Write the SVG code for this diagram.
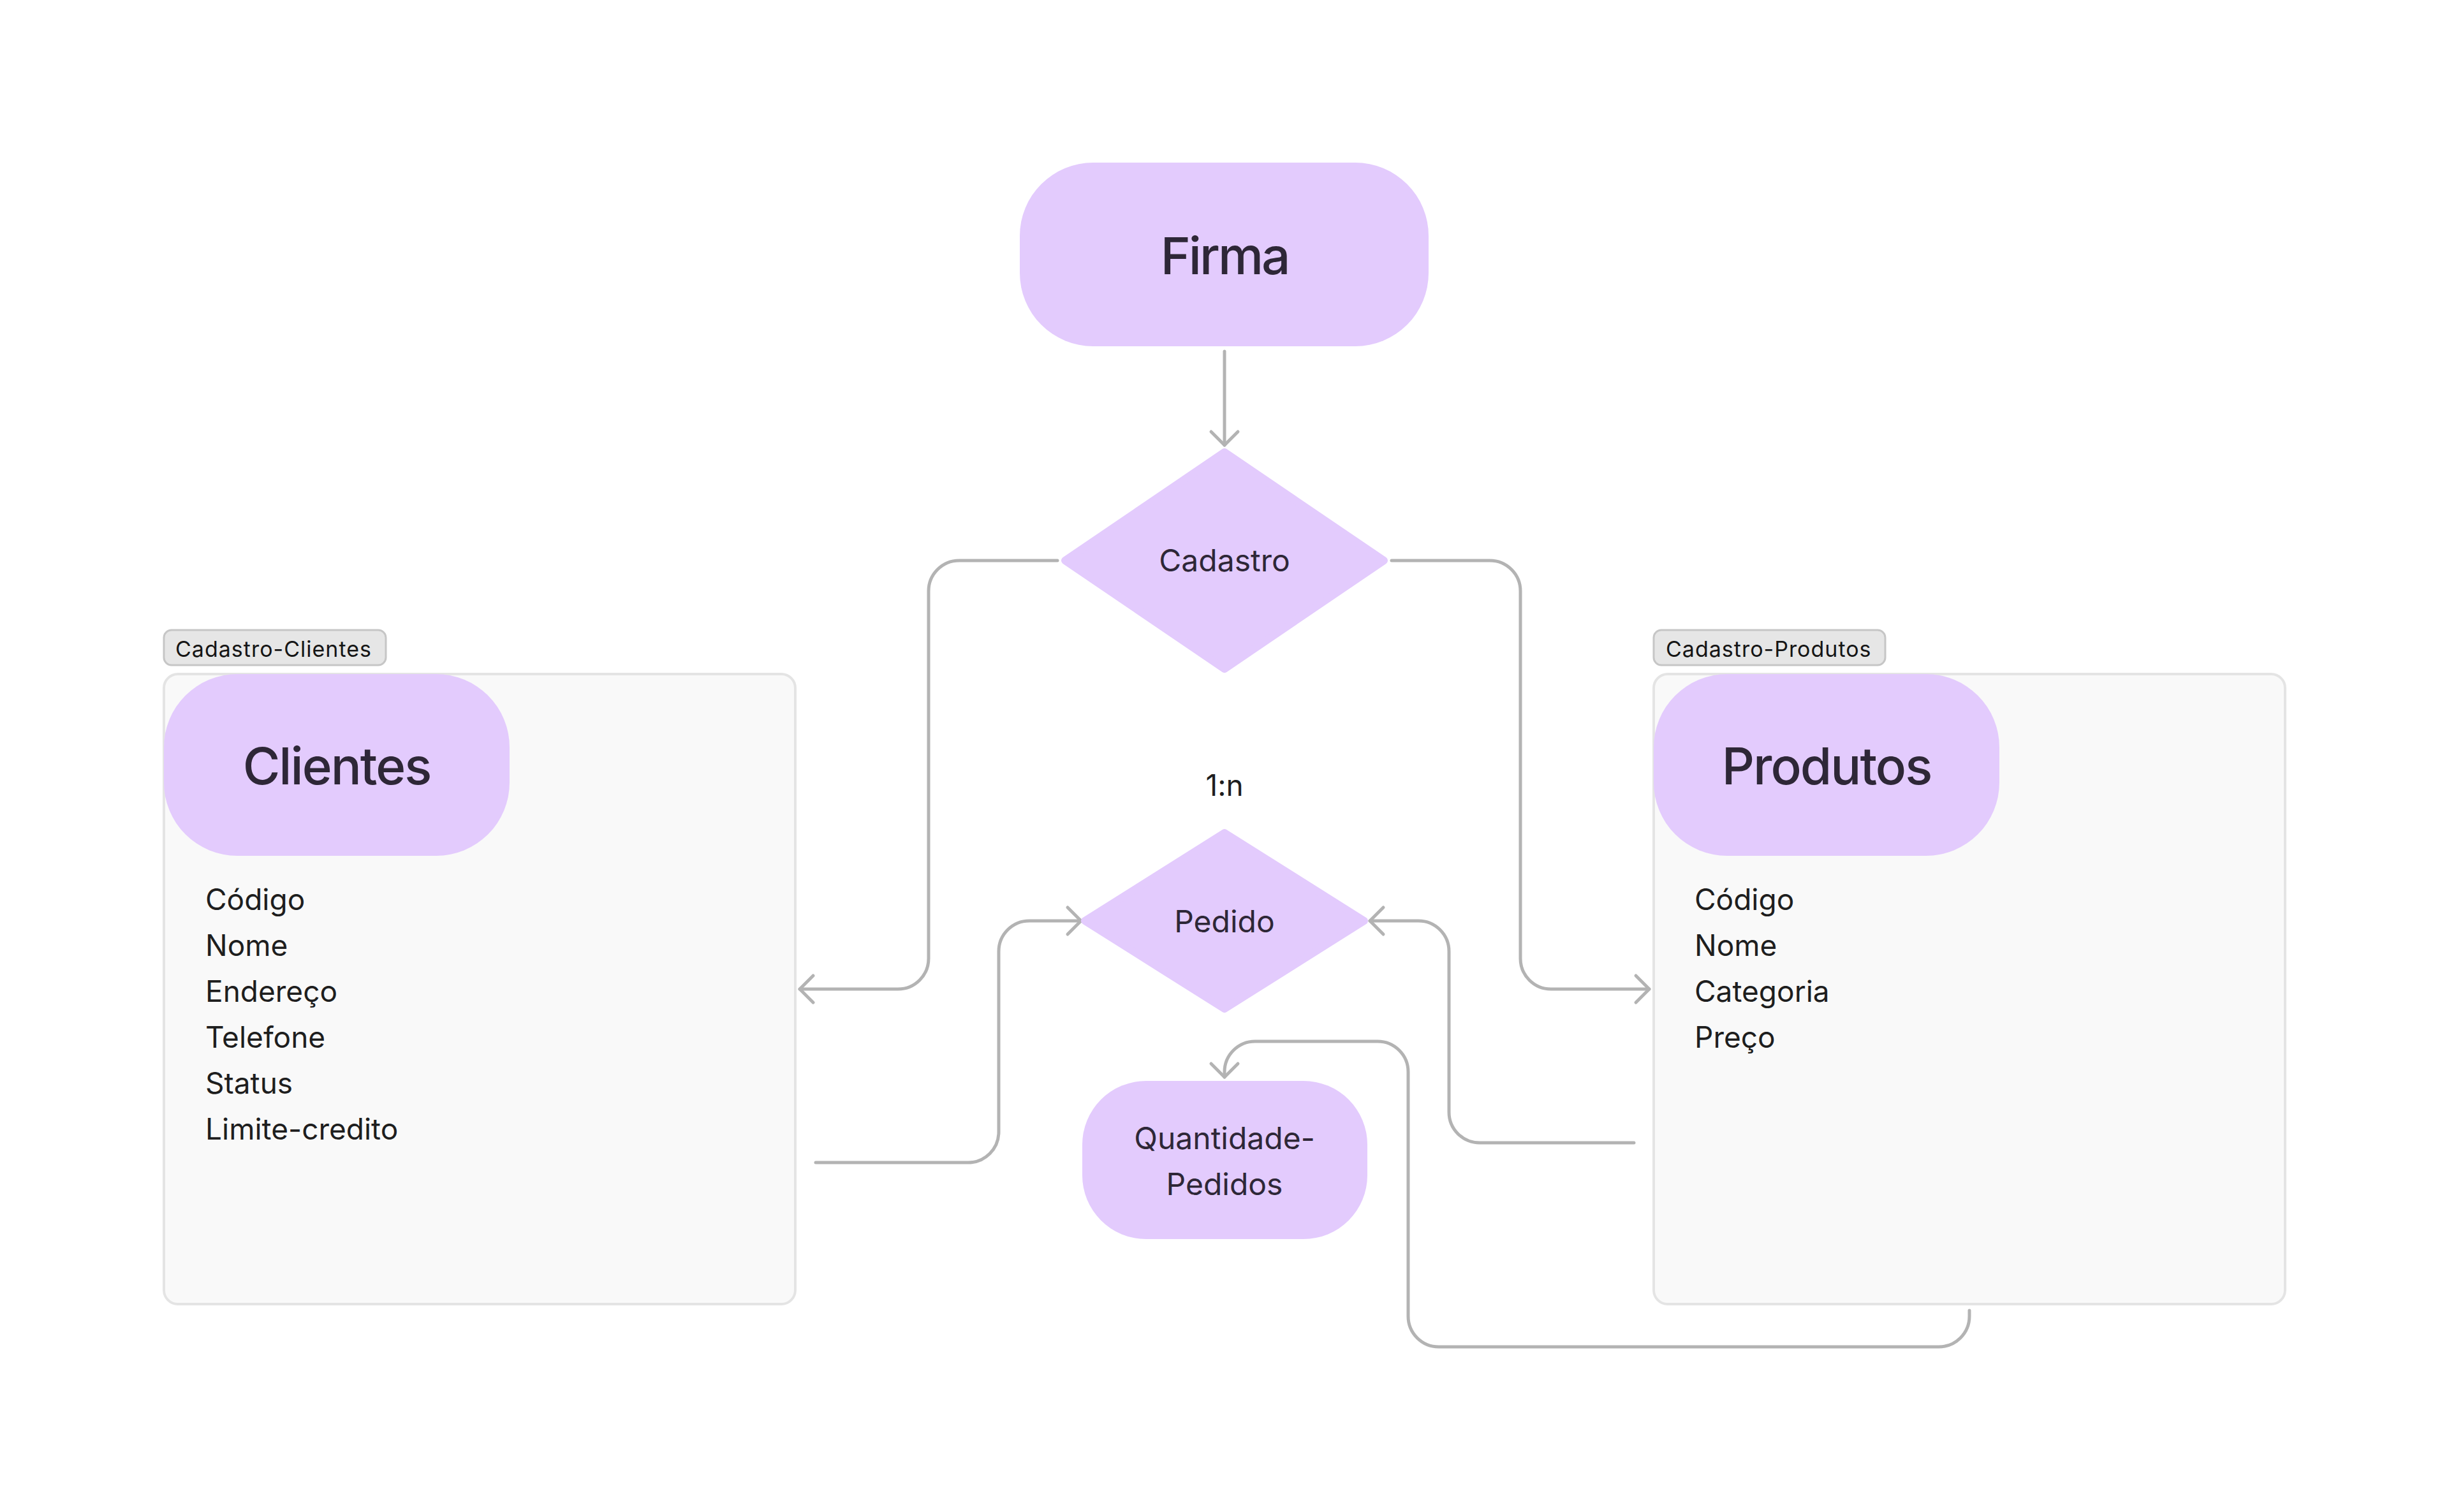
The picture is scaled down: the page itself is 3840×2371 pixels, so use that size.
<svg xmlns="http://www.w3.org/2000/svg" width="3840" height="2371" viewBox="0 0 3840 2371">
<defs>
<style>
.pill{fill:#e3cbfd;}
.dia{fill:#e3cbfd;stroke:#e3cbfd;stroke-width:12;stroke-linejoin:round;}
.ntext{font-family:Inter,"Noto Sans",sans-serif;fill:#2e2737;text-anchor:middle;}
.title{font-weight:500;letter-spacing:-2px;}
.attr{font-family:Inter,"Noto Sans",sans-serif;font-size:46px;fill:#1e1e1e;}
.cont{fill:#f9f9f9;stroke:#e4e4e4;stroke-width:4;}
.tag{fill:#e6e6e6;stroke:#c6c6c6;stroke-width:3;}
.tagt{font-family:Inter,"Noto Sans",sans-serif;font-size:34px;letter-spacing:1px;fill:#151515;}
.conn{fill:none;stroke:#b3b3b3;stroke-width:5;stroke-linecap:round;stroke-linejoin:round;}
</style>
<marker id="arr" markerUnits="userSpaceOnUse" markerWidth="60" markerHeight="60" viewBox="-30 -30 60 60" refX="0" refY="0" orient="auto">
<path d="M -21 -21 L 0 0 L -21 21" fill="none" stroke="#b3b3b3" stroke-width="5" stroke-linecap="round" stroke-linejoin="round"/>
</marker>
</defs>
<rect width="3840" height="2371" fill="#ffffff"/>

<g id="group-clientes">
<rect class="tag" x="257" y="988" width="348" height="55" rx="12"/>
<text class="tagt" x="275" y="1030">Cadastro-Clientes</text>
<rect class="cont" x="257" y="1057" width="990" height="988" rx="22"/>
</g>
<g id="group-produtos">
<rect class="tag" x="2593" y="988" width="363" height="55" rx="12"/>
<text class="tagt" x="2612" y="1030">Cadastro-Produtos</text>
<rect class="cont" x="2593" y="1057" width="990" height="988" rx="22"/>
</g>

<g id="connectors">
<path class="conn" d="M 1920 551 L 1920 698" marker-end="url(#arr)"/>
<path class="conn" d="M 1658 879 L 1504 879 A 48 48 0 0 0 1456 927 L 1456 1503 A 48 48 0 0 1 1408 1551 L 1254 1551" marker-end="url(#arr)"/>
<path class="conn" d="M 2182 879 L 2336 879 A 48 48 0 0 1 2384 927 L 2384 1503 A 48 48 0 0 0 2432 1551 L 2586 1551" marker-end="url(#arr)"/>
<path class="conn" d="M 1279 1823 L 1518 1823 A 48 48 0 0 0 1566 1775 L 1566 1492 A 48 48 0 0 1 1614 1444 L 1695 1444" marker-end="url(#arr)"/>
<path class="conn" d="M 2562 1792 L 2320 1792 A 48 48 0 0 1 2272 1744 L 2272 1492 A 48 48 0 0 0 2224 1444 L 2148 1444" marker-end="url(#arr)"/>
<path class="conn" d="M 3088 2055 L 3088 2064 A 48 48 0 0 1 3040 2112 L 2256 2112 A 48 48 0 0 1 2208 2064 L 2208 1681 A 48 48 0 0 0 2160 1633 L 1968 1633 A 48 48 0 0 0 1920 1681 L 1920 1689" marker-end="url(#arr)"/>
</g>

<g id="firma">
<rect class="pill" x="1599" y="255" width="641" height="288" rx="115"/>
<text class="ntext title" x="1920" y="430" font-size="80" style="letter-spacing:-3px">Firma</text>
</g>
<g id="cadastro">
<polygon class="dia" points="1920,709 2170,879 1920,1049 1670,879"/>
<text class="ntext" x="1920" y="896" font-size="48">Cadastro</text>
</g>
<g id="clientes">
<rect class="pill" x="257" y="1057" width="542" height="285" rx="115"/>
<text class="ntext title" x="528" y="1230" font-size="80">Clientes</text>
<text class="attr" x="322" y="1427">Código</text>
<text class="attr" x="322" y="1499">Nome</text>
<text class="attr" x="322" y="1571">Endereço</text>
<text class="attr" x="322" y="1643">Telefone</text>
<text class="attr" x="322" y="1715">Status</text>
<text class="attr" x="322" y="1787">Limite-credito</text>
</g>
<g id="produtos">
<rect class="pill" x="2593" y="1057" width="542" height="285" rx="115"/>
<text class="ntext title" x="2864" y="1230" font-size="80">Produtos</text>
<text class="attr" x="2657" y="1427">Código</text>
<text class="attr" x="2657" y="1499">Nome</text>
<text class="attr" x="2657" y="1571">Categoria</text>
<text class="attr" x="2657" y="1643">Preço</text>
</g>
<g id="label-1n">
<text class="attr" x="1920" y="1248" text-anchor="middle">1:n</text>
</g>
<g id="pedido">
<polygon class="dia" points="1920,1306 2139,1444 1920,1582 1701,1444"/>
<text class="ntext" x="1920" y="1462" font-size="48">Pedido</text>
</g>
<g id="quantidade-pedidos">
<rect class="pill" x="1697" y="1695" width="447" height="248" rx="100"/>
<text class="ntext" x="1920" y="1802" font-size="48">Quantidade-</text>
<text class="ntext" x="1920" y="1874" font-size="48">Pedidos</text>
</g>
</svg>
